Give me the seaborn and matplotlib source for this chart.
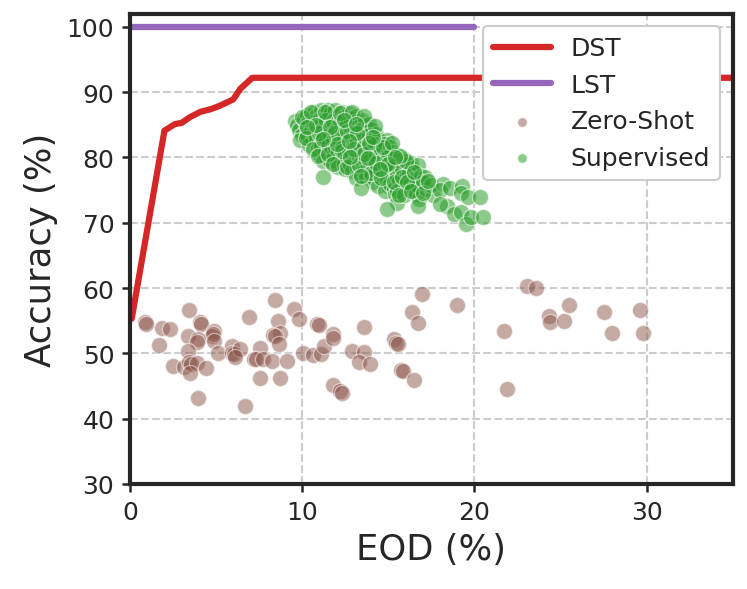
import matplotlib
matplotlib.use("Agg")
import matplotlib.pyplot as plt
import seaborn as sns

# ----------------------------------------------------------------------------------------------
# Data
# ----------------------------------------------------------------------------------------------
# DST curve (accuracy vs EOD)
dst_x = [0.1, 2.0, 2.6, 3.0, 3.5, 4.1, 4.7, 5.2, 6.0, 6.4, 7.1, 35.0]
dst_y = [55.3, 84.1, 85.1, 85.3, 86.2, 87.0, 87.4, 87.9, 88.9, 90.5, 92.2, 92.2]

# LST reference line
lst_x = [0.0, 20.0]
lst_y = [100.0, 100.0]

# Zero-shot points
zs_x = [0.87, 0.95, 1.84, 2.33, 1.69, 3.43, 4.05, 4.15, 4.9, 4.75, 4.8, 3.39, 3.93, 3.9,
        4.9, 3.39, 5.13, 2.52, 3.16, 3.45, 3.55, 3.88, 3.49, 4.42, 3.97, 6.92, 5.91, 5.95,
        6.05, 6.4, 6.1, 6.69, 7.56, 7.22, 7.32, 7.75, 8.24, 9.1, 7.52, 8.72, 8.43, 8.59,
        8.72, 8.3, 8.42, 8.68, 9.5, 9.83, 10.02, 10.6, 11.1, 10.85, 10.95, 11.24, 11.76,
        11.76, 11.78, 12.2, 12.3, 12.9, 13.6, 13.6, 13.3, 13.95, 15.35, 15.45, 15.55,
        15.75, 15.85, 16.5, 16.4, 16.7, 16.95, 19.0, 23.06, 23.6, 25.5, 24.3, 24.4, 25.2,
        21.7, 21.9, 27.5, 28.0, 29.6, 29.8]
zs_y = [54.8, 54.5, 53.9, 53.8, 51.3, 56.7, 54.8, 54.5, 53.5, 52.6, 52.9, 52.6, 52.2, 51.7,
        51.9, 50.4, 50.1, 48.0, 47.9, 48.7, 48.4, 48.5, 47.0, 47.8, 43.2, 55.5, 51.1, 50.1,
        49.9, 50.7, 49.4, 41.9, 50.8, 49.2, 49.1, 49.2, 48.9, 48.9, 46.2, 46.2, 58.1, 55.0,
        53.1, 52.8, 52.6, 51.5, 56.8, 55.3, 50.0, 49.7, 49.9, 54.5, 54.4, 51.1, 53.0,
        52.4, 45.2, 44.2, 44.0, 50.4, 54.0, 50.2, 48.7, 48.4, 52.2, 51.6, 51.4,
        47.5, 47.3, 46.0, 56.3, 54.7, 59.1, 57.4, 60.3, 60.0, 57.4, 55.8, 54.8, 55.0,
        53.5, 44.6, 56.3, 53.1, 56.7, 53.1]

# Supervised points
sup_x = [9.6, 9.7, 9.8, 10.0, 9.9, 10.1, 10.3, 10.4, 10.2, 10.5, 10.3, 10.6, 10.4,
         10.7, 10.8, 10.6, 10.9, 10.7, 10.8, 11.0, 10.9, 11.0,
         11.1, 11.2, 11.0, 11.3, 11.1, 11.2, 11.4, 11.1, 11.3, 11.4, 11.2,
         11.5, 11.6, 11.4, 11.7, 11.5, 11.6, 11.8, 11.5, 11.7, 11.8, 11.6,
         11.9, 12.0, 11.8, 12.1, 11.9, 12.0, 12.2, 11.9, 12.1, 12.2, 12.0, 12.1,
         12.3, 12.4, 12.2, 12.5, 12.3, 12.4, 12.6, 12.3, 12.5, 12.6, 12.4, 12.5,
         12.7, 12.8, 12.6, 12.9, 12.7, 12.8, 13.0, 12.7, 12.9, 13.0, 12.8, 12.9,
         13.1, 13.2, 13.0, 13.3, 13.1, 13.2, 13.4, 13.1, 13.3, 13.4, 13.2, 13.3, 13.1,
         13.5, 13.6, 13.4, 13.7, 13.5, 13.6, 13.8, 13.5, 13.7, 13.8, 13.6, 13.7,
         13.9, 14.0, 13.9, 14.1, 13.9, 14.0, 14.2, 13.9, 14.1, 14.2, 14.0, 14.1,
         14.3, 14.4, 14.2, 14.5, 14.3, 14.4, 14.6, 14.3, 14.5, 14.6, 14.4,
         14.9, 14.8, 14.6, 14.9, 14.7, 14.8, 15.0, 14.7, 14.9, 15.0, 14.8,
         15.1, 15.2, 15.0, 15.3, 15.1, 15.2, 15.4, 15.1, 15.3, 15.4, 15.5, 14.9,
         15.5, 15.6, 15.4, 15.7, 15.5, 15.6, 15.8, 15.5,
         15.9, 16.0, 15.8, 16.1, 15.9, 16.0, 16.2, 15.9,
         16.3, 16.4, 16.2, 16.5, 16.3, 16.4, 16.6,
         16.7, 16.6, 16.9, 16.7, 16.8, 16.7, 17.1, 17.2, 17.0, 17.6, 17.5,
         18.2, 18.0, 18.4, 18.0, 18.6, 18.8, 19.3, 19.2, 19.2, 19.6, 19.5, 19.8,
         20.3, 20.5, 11.2, 13.4, 16.0, 15.7,
         10.0, 10.5, 10.2, 10.6, 10.9, 11.3, 11.0, 11.5, 11.8, 12.2, 11.9, 12.3, 12.6,
         12.9, 12.6, 13.0, 13.3, 13.6, 13.2, 13.6, 14.0, 14.2, 13.9, 14.3, 14.6, 14.7,
         15.0, 15.3, 15.6, 15.2, 15.8, 16.1, 16.5, 16.3, 17.0, 17.3, 10.8, 11.6, 12.4,
         13.1, 12.0, 12.8, 13.8, 14.5, 15.4, 10.3, 11.2, 12.7, 14.1, 13.4]
sup_y = [85.6, 84.9, 84.2, 83.4, 82.7, 85.9, 86.5, 85.8, 85.0, 84.2, 83.5, 82.7, 81.9,
         87.0, 86.3, 85.5, 84.6, 83.8, 83.0, 82.2, 81.4, 80.6,
         87.2, 86.5, 85.7, 84.9, 84.1, 83.3, 82.5, 81.7, 80.9, 80.1, 79.4,
         87.3, 86.6, 85.8, 85.0, 84.2, 83.4, 82.6, 81.8, 81.0, 80.2, 79.5,
         87.2, 86.4, 85.6, 84.8, 84.0, 83.2, 82.4, 81.6, 80.8, 80.0, 79.2, 78.5,
         87.0, 86.2, 85.4, 84.6, 83.8, 83.0, 82.2, 81.4, 80.6, 79.8, 79.0, 78.2,
         86.8, 86.0, 85.2, 84.4, 83.6, 82.8, 82.0, 81.2, 80.4, 79.6, 78.8, 78.0,
         86.4, 85.6, 84.8, 84.0, 83.2, 82.4, 81.6, 80.8, 80.0, 79.2, 78.4, 77.6, 76.8,
         85.8, 85.0, 84.2, 83.4, 82.6, 81.8, 81.0, 80.2, 79.4, 78.6, 77.8, 77.0,
         85.2, 84.4, 83.4, 82.6, 81.8, 81.0, 80.2, 79.4, 78.6, 77.8, 77.0, 76.2,
         83.6, 82.8, 82.0, 81.2, 80.4, 79.6, 78.8, 78.0, 77.2, 76.4, 75.6,
         82.6, 82.0, 81.2, 80.4, 79.6, 78.8, 78.0, 77.2, 76.4, 75.6, 74.8,
         81.6, 80.8, 80.0, 79.2, 78.4, 77.6, 76.8, 76.0, 75.2, 74.4, 73.1, 72.1,
         80.4, 79.6, 78.8, 78.0, 77.2, 76.4, 75.6, 74.8,
         79.8, 79.0, 78.2, 77.4, 76.6, 75.8, 75.0, 74.2,
         79.2, 78.4, 77.6, 76.8, 76.0, 75.2, 74.4,
         78.8, 76.7, 77.2, 75.6, 73.6, 72.6, 77.0, 75.2, 76.2, 74.2, 75.8,
         76.0, 75.0, 72.6, 72.9, 75.4, 71.4, 75.7, 74.6, 71.7, 73.9, 69.8, 70.9,
         73.9, 70.9, 77.0, 75.3, 79.5, 80.3,
         86.2, 86.9, 83.0, 81.3, 80.2, 86.9, 83.8, 80.6, 79.0, 86.8, 83.7, 81.0, 78.6,
         87.0, 84.0, 81.3, 78.9, 86.3, 83.7, 80.6, 77.6, 84.8, 82.2, 79.2, 76.9, 81.6,
         79.0, 76.3, 74.2, 82.2, 77.0, 76.2, 77.8, 74.8, 74.6, 76.4, 84.9, 84.6, 85.8,
         85.2, 82.0, 80.0, 79.9, 78.3, 80.0, 84.6, 82.9, 82.5, 83.2, 77.2]

# ----------------------------------------------------------------------------------------------
# Plot
# ----------------------------------------------------------------------------------------------
sns.set_theme(style="ticks")
plt.rcParams["font.family"] = ["DejaVu Sans"]

fig, ax = plt.subplots(figsize=(4.98, 3.933), dpi=150)
fig.subplots_adjust(left=0.174, right=0.981, bottom=0.178, top=0.975)

sns.lineplot(x=dst_x, y=dst_y, color="#d62728", linewidth=3.0, label="DST", ax=ax,
             estimator=None, sort=False)
sns.lineplot(x=lst_x, y=lst_y, color="#9467bd", linewidth=3.0, label="LST", ax=ax,
             estimator=None, sort=False)
sns.scatterplot(x=zs_x, y=zs_y, color="#8c564b", alpha=0.5, s=60, edgecolor="white",
                linewidth=0.6, label="Zero-Shot", ax=ax)
sns.scatterplot(x=sup_x, y=sup_y, color="#2ca02c", alpha=0.55, s=60, edgecolor="white",
                linewidth=0.6, label="Supervised", ax=ax)

ax.set_xlim(0, 35)
ax.set_ylim(30, 102)
ax.set_xticks([0, 10, 20, 30])
ax.set_yticks([30, 40, 50, 60, 70, 80, 90, 100])
ax.grid(True, linestyle="--", color="#cccccc", linewidth=1.0)
ax.set_axisbelow(True)

for spine in ax.spines.values():
    spine.set_linewidth(2.0)
    spine.set_color("#262626")
ax.tick_params(labelsize=12, length=4, width=1.2)

ax.set_xlabel("EOD (%)", fontsize=17)
ax.set_ylabel("Accuracy (%)", fontsize=17)

ax.legend(loc="upper right", fontsize=12, handlelength=2.3, markerscale=0.6,
          framealpha=1.0)

plt.savefig("out.png", dpi=150)
plt.close()
